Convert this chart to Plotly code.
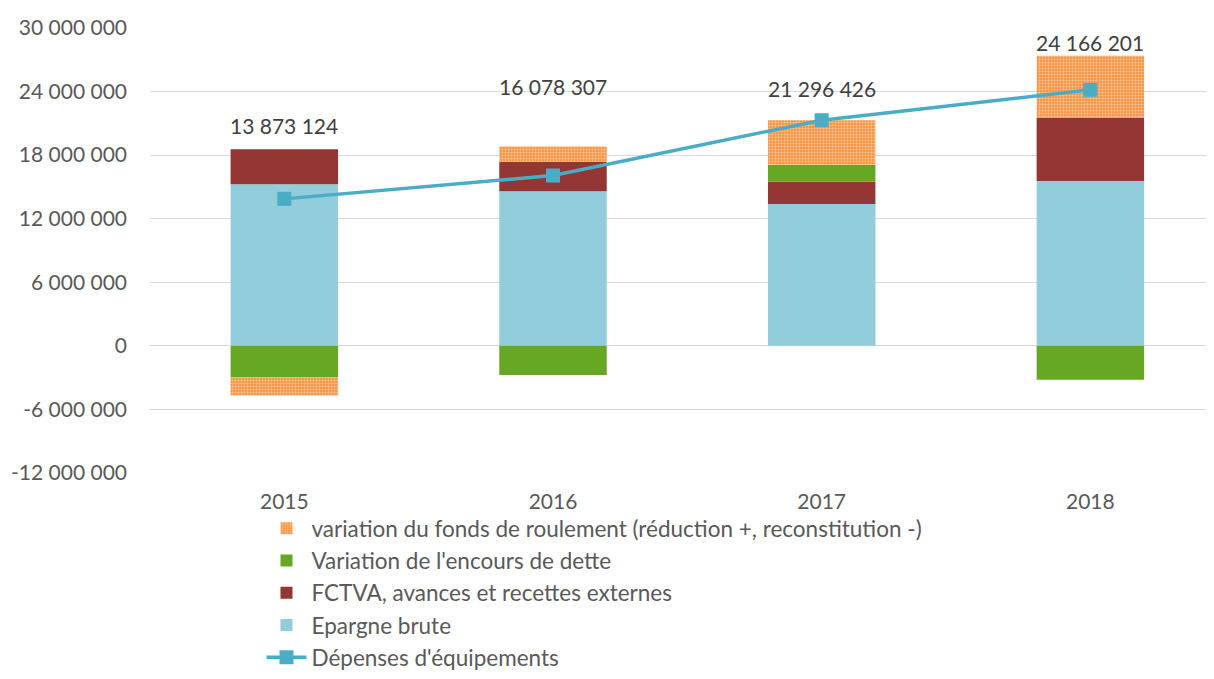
import plotly.graph_objects as go

years = ["2015", "2016", "2017", "2018"]
epargne_brute = [15250000, 14600000, 13400000, 15550000]
fctva = [3300000, 2750000, 2100000, 5950000]
variation_dette = [-2950000, -2740000, 1600000, -3200000]
variation_fdr = [-1730000, 1470000, 4200000, 5870000]
depenses = [13873124, 16078307, 21296426, 24166201]
depenses_labels = ["13 873 124", "16 078 307", "21 296 426", "24 166 201"]
label_y = [20800000, 24500000, 24300000, 28600000]

tick_vals = [-12000000, -6000000, 0, 6000000, 12000000, 18000000, 24000000, 30000000]
tick_text = ["-12 000 000", "-6 000 000", "0", "6 000 000", "12 000 000", "18 000 000", "24 000 000", "30 000 000"]

FONT = "Lato"
fig = go.Figure()
fig.add_trace(go.Bar(x=years, y=epargne_brute, name="Epargne brute", legendgroup="g4",
                     marker=dict(color="#92CDDC", line=dict(width=0)), legendrank=4))
fig.add_trace(go.Bar(x=years, y=fctva, name="FCTVA, avances et recettes externes", legendgroup="g3",
                     marker=dict(color="#943634", line=dict(width=0)), legendrank=3))
fig.add_trace(go.Bar(x=years, y=variation_dette, name="Variation de l'encours de dette", legendgroup="g2",
                     marker=dict(color="#66A824", line=dict(width=0)), legendrank=2))
fig.add_trace(go.Bar(x=years, y=variation_fdr, legendgroup="g1",
                     name="variation du fonds de roulement (réduction +, reconstitution -)",
                     marker=dict(color="#F79646", line=dict(width=0),
                                 pattern=dict(shape="+", fgcolor="#FFFFFF", bgcolor="#F79646",
                                              size=3, solidity=0.3)),
                     legendrank=1))
fig.add_trace(go.Scatter(x=years, y=depenses, name="Dépenses d'équipements", mode="lines+markers",
                         legendgroup="g5",
                         line=dict(color="#4BACC6", width=3.5),
                         marker=dict(symbol="square", size=14, color="#4BACC6"), legendrank=5))

for i, (txt, ly) in enumerate(zip(depenses_labels, label_y)):
    fig.add_annotation(x=i, y=ly, xref="x", yref="y", text=txt, showarrow=False,
                       font=dict(family=FONT, size=21, color="#404040"), yanchor="middle")

fig.update_layout(
    width=1214, height=679,
    barmode="relative", bargap=0.6,
    plot_bgcolor="white", paper_bgcolor="white",
    margin=dict(l=142, r=0, t=20, b=214, autoexpand=False),
    font=dict(family=FONT, size=21, color="#595959"),
    showlegend=True,
    legend=dict(x=0.104, y=0.265, yref="container", xanchor="left", yanchor="top",
                font=dict(family=FONT, size=22.5, color="#595959"),
                tracegroupgap=0, itemwidth=40, bgcolor="rgba(0,0,0,0)"),
    xaxis=dict(range=[-0.5, 3.49], showgrid=False, showline=False, ticks="",
               ticklabelstandoff=14,
               tickfont=dict(family=FONT, size=21, color="#595959")),
    yaxis=dict(range=[-12000000, 30000000], tickvals=tick_vals, ticktext=tick_text,
               showgrid=True, gridcolor="#D9D9D9", gridwidth=1.3,
               zeroline=True, zerolinecolor="#D9D9D9", zerolinewidth=1.3,
               showline=False, ticks="", ticklabelstandoff=22,
               tickfont=dict(family=FONT, size=21, color="#595959")),
)

fig.write_html("out.html")
